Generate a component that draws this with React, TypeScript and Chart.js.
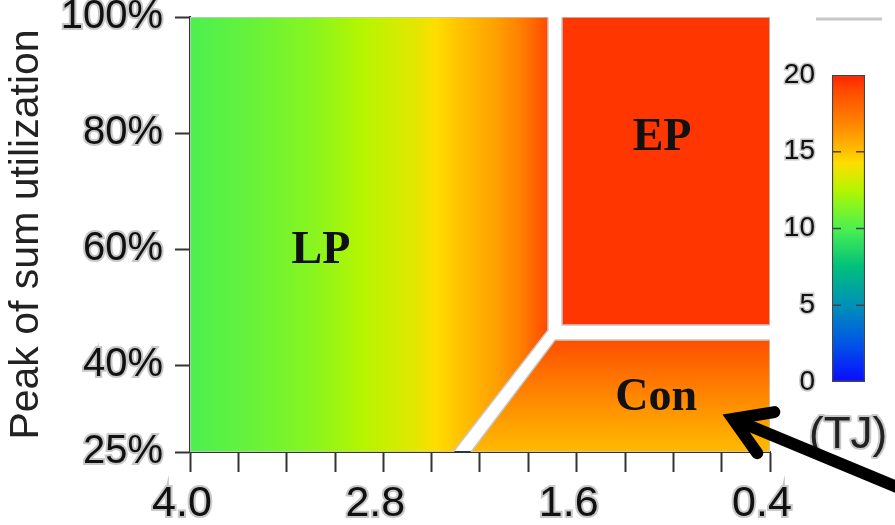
import React, { useEffect, useRef } from 'react';
import { Chart, registerables } from 'chart.js';

Chart.register(...registerables);

// ---------- axis ticks ----------
const xTickValues = [4.0, 3.7, 3.4, 3.1, 2.8, 2.5, 2.2, 1.9, 1.6, 1.3, 1.0, 0.7, 0.4];
const xLabeledTicks = [4.0, 2.8, 1.6, 0.4];
const yTickValues = [25, 40, 60, 80, 100];
const colorbarTicks = [0, 5, 10, 15, 20];
const colorbarUnit = '(TJ)';

// ---------- region polygons (x: ratio, y: peak of sum utilization %) ----------
const lpX = [4.0, 4.0, 1.778, 1.778, 2.367, 4.0];
const lpY = [25, 100, 100, 46.0, 25, 25];
const epX = [1.691, 0.4, 0.4, 1.691, 1.691];
const epY = [100, 100, 46.9, 46.9, 100];
const conX = [2.256, 1.734, 0.4, 0.4, 2.256];
const conY = [25, 44.3, 44.3, 25, 25];

// ---------- energy values (TJ) ----------
const lpEnergyX = [4.0, 3.65, 3.24, 2.93, 2.62, 2.47, 2.31, 2.1, 1.95, 1.778];
const lpEnergy = [10, 10.6, 11.5, 12.5, 13.5, 14.3, 15, 16, 17, 19];
const epEnergy = 19.5;
const conEnergyY = [44.3, 40.5, 30, 25];
const conEnergy = [18.8, 18, 16, 15.2];

// ---------- annotations ----------
const regionNames = ['LP', 'EP', 'Con'];
const regionLabelX = [3.187, 1.07, 1.107];
const regionLabelY = [59.6, 79.1, 34.3];
const arrowX = [-0.47, 0.63];
const arrowY = [18.0, 30.7];

// ---------- colormap (style) ----------
const cmapStops: [number, string][] = [
  [0, '#0a0aff'],
  [2.5, '#0055e6'],
  [5, '#0090b8'],
  [7.5, '#00c07c'],
  [10, '#4cf050'],
  [11.5, '#88f520'],
  [12.5, '#b5f500'],
  [13.5, '#e0e800'],
  [14.3, '#ffdd00'],
  [15, '#ffc000'],
  [16, '#ffa000'],
  [17, '#ff8000'],
  [19, '#ff4a00'],
  [20, '#ff2200'],
];

const SANS = "'Liberation Sans', Arial, sans-serif";
const SERIF = "'Liberation Serif', 'Times New Roman', serif";

function hexToRgb(h: string) {
  const n = parseInt(h.slice(1), 16);
  return [(n >> 16) & 255, (n >> 8) & 255, n & 255];
}
function cmap(v: number): string {
  const s = cmapStops;
  if (v <= s[0][0]) return s[0][1];
  for (let i = 1; i < s.length; i++) {
    if (v <= s[i][0]) {
      const t = (v - s[i - 1][0]) / (s[i][0] - s[i - 1][0]);
      const a = hexToRgb(s[i - 1][1]);
      const b = hexToRgb(s[i][1]);
      const c = a.map((av, k) => Math.round(av + (b[k] - av) * t));
      return `rgb(${c[0]},${c[1]},${c[2]})`;
    }
  }
  return s[s.length - 1][1];
}

function lpFill(chart: any) {
  const { ctx, scales, chartArea } = chart;
  if (!chartArea || !scales.x) return cmap(lpEnergy[0]);
  const x0 = scales.x.getPixelForValue(lpEnergyX[0]);
  const x1 = scales.x.getPixelForValue(lpEnergyX[lpEnergyX.length - 1]);
  const g = ctx.createLinearGradient(x0, 0, x1, 0);
  lpEnergyX.forEach((xv, i) => {
    const f = (scales.x.getPixelForValue(xv) - x0) / (x1 - x0);
    g.addColorStop(Math.min(1, Math.max(0, f)), cmap(lpEnergy[i]));
  });
  return g;
}
function conFill(chart: any) {
  const { ctx, scales, chartArea } = chart;
  if (!chartArea || !scales.y) return cmap(conEnergy[0]);
  const y0 = scales.y.getPixelForValue(conEnergyY[0]);
  const y1 = scales.y.getPixelForValue(conEnergyY[conEnergyY.length - 1]);
  const g = ctx.createLinearGradient(0, y0, 0, y1);
  conEnergyY.forEach((yv, i) => {
    const f = (scales.y.getPixelForValue(yv) - y0) / (y1 - y0);
    g.addColorStop(Math.min(1, Math.max(0, f)), cmap(conEnergy[i]));
  });
  return g;
}

const annotationPlugin = {
  id: 'annotations',
  afterDraw(chart: any) {
    const { ctx, scales, chartArea } = chart;
    const xs = scales.x;
    const ys = scales.y;
    ctx.save();
    // region labels
    ctx.font = `bold 46px ${SERIF}`;
    ctx.textAlign = 'center';
    ctx.textBaseline = 'middle';
    ctx.fillStyle = '#111';
    regionNames.forEach((n, i) => {
      ctx.fillText(n, xs.getPixelForValue(regionLabelX[i]), ys.getPixelForValue(regionLabelY[i]));
    });
    // colorbar unit
    ctx.font = `44px ${SANS}`;
    ctx.textAlign = 'left';
    ctx.lineWidth = 4;
    ctx.strokeStyle = '#c8c8c8';
    ctx.lineJoin = 'round';
    ctx.strokeText(colorbarUnit, chartArea.right + 39, chartArea.bottom - 16);
    ctx.fillStyle = '#222';
    ctx.fillText(colorbarUnit, chartArea.right + 39, chartArea.bottom - 16);
    // arrow
    const tx = xs.getPixelForValue(arrowX[1]);
    const ty = ys.getPixelForValue(arrowY[1]);
    const fx = xs.getPixelForValue(arrowX[0]);
    const fy = ys.getPixelForValue(arrowY[0]);
    const ang = Math.atan2(fy - ty, fx - tx);
    const wing = 42;
    const spread = (32 * Math.PI) / 180;
    ctx.strokeStyle = '#000';
    ctx.lineWidth = 12;
    ctx.lineCap = 'round';
    ctx.lineJoin = 'miter';
    ctx.beginPath();
    ctx.moveTo(fx, fy);
    ctx.lineTo(tx + 8 * Math.cos(ang), ty + 8 * Math.sin(ang));
    ctx.stroke();
    ctx.beginPath();
    ctx.moveTo(tx + wing * Math.cos(ang - spread), ty + wing * Math.sin(ang - spread));
    ctx.lineTo(tx, ty);
    ctx.lineTo(tx + wing * Math.cos(ang + spread), ty + wing * Math.sin(ang + spread));
    ctx.stroke();
    // faint line at top right
    ctx.strokeStyle = '#c8c8c8';
    ctx.lineWidth = 3;
    ctx.lineCap = 'butt';
    ctx.beginPath();
    ctx.moveTo(chartArea.right + 46, chartArea.top + 2);
    ctx.lineTo(chartArea.right + 112, chartArea.top + 2);
    ctx.stroke();
    ctx.restore();
  },
};

const colorbarPlugin = {
  id: 'cbTicks',
  afterDatasetsDraw(chart: any) {
    const { ctx, scales, chartArea } = chart;
    ctx.save();
    ctx.strokeStyle = '#444';
    ctx.lineWidth = 1.5;
    colorbarTicks.forEach((v) => {
      if (v === colorbarTicks[0] || v === colorbarTicks[colorbarTicks.length - 1]) return;
      const py = scales.y.getPixelForValue(v);
      ctx.beginPath();
      ctx.moveTo(chartArea.left, py);
      ctx.lineTo(chartArea.left + 9, py);
      ctx.moveTo(chartArea.right - 9, py);
      ctx.lineTo(chartArea.right, py);
      ctx.stroke();
    });
    ctx.restore();
  },
};

const poly = (xs: number[], ys: number[]) => xs.map((x, i) => ({ x, y: ys[i] }));

export default function App() {
  const mainRef = useRef<HTMLCanvasElement>(null);
  const cbRef = useRef<HTMLCanvasElement>(null);

  useEffect(() => {
    if (!mainRef.current || !cbRef.current) return;
    const common = {
      showLine: true,
      fill: 'shape',
      pointRadius: 0,
      borderColor: '#c8c8c8',
      borderWidth: 1.5,
      tension: 0,
    };
    const main = new Chart(mainRef.current, {
      type: 'scatter',
      data: {
        datasets: [
          { ...common, label: 'LP', data: poly(lpX, lpY), backgroundColor: (c: any) => lpFill(c.chart) },
          { ...common, label: 'EP', data: poly(epX, epY), backgroundColor: cmap(epEnergy) },
          { ...common, label: 'Con', data: poly(conX, conY), backgroundColor: (c: any) => conFill(c.chart) },
        ] as any,
      },
      options: {
        responsive: false,
        animation: false,
        events: [],
        layout: { padding: { top: 17, right: 125, bottom: 0, left: 0 } },
        plugins: { legend: { display: false }, tooltip: { enabled: false } },
        scales: {
          x: {
            type: 'linear',
            min: 0.4,
            max: 4.0,
            reverse: true,
            z: 1,
            afterBuildTicks: (s: any) => {
              s.ticks = xTickValues.map((v) => ({ value: v }));
            },
            afterFit: (s: any) => {
              s.height = 73;
            },
            grid: { drawOnChartArea: false, tickLength: 20, tickWidth: 2, color: '#333' },
            border: { display: true, color: '#333', width: 2 },
            ticks: {
              autoSkip: false,
              maxRotation: 0,
              padding: 11,
              labelOffset: -8,
              color: '#111',
              font: { family: SANS, size: 43, lineHeight: 1 },
              textStrokeColor: '#c8c8c8',
              textStrokeWidth: 4,
              callback: (v: any) =>
                xLabeledTicks.some((t) => Math.abs(t - Number(v)) < 1e-6) ? Number(v).toFixed(1) : '',
            },
          },
          y: {
            type: 'linear',
            min: 25,
            max: 100,
            z: 1,
            afterBuildTicks: (s: any) => {
              s.ticks = yTickValues.map((v) => ({ value: v }));
            },
            afterFit: (s: any) => {
              s.width = 190;
            },
            grid: { drawOnChartArea: false, tickLength: 15, tickWidth: 2, color: '#333' },
            border: { display: true, color: '#333', width: 2 },
            ticks: {
              padding: 12,
              color: '#111',
              font: { family: SANS, size: 40, lineHeight: 0.2 },
              textStrokeColor: '#c8c8c8',
              textStrokeWidth: 4,
              callback: (v: any) => `${v}%`,
            },
            title: {
              display: true,
              text: 'Peak of sum utilization',
              color: '#222',
              font: { family: SANS, size: 41, lineHeight: 1.2 },
              padding: { top: 2, bottom: 0 },
            },
          },
        },
      } as any,
      plugins: [annotationPlugin],
    });

    const cb = new Chart(cbRef.current, {
      type: 'bar',
      data: {
        labels: ['TJ'],
        datasets: [
          {
            data: [[colorbarTicks[0], colorbarTicks[colorbarTicks.length - 1]]],
            barPercentage: 1,
            categoryPercentage: 1,
            borderColor: '#444',
            borderWidth: 1.5,
            borderSkipped: false,
            backgroundColor: (c: any) => {
              const { ctx, scales, chartArea } = c.chart;
              if (!chartArea || !scales.y) return cmap(10);
              const y0 = scales.y.getPixelForValue(cmapStops[0][0]);
              const y1 = scales.y.getPixelForValue(cmapStops[cmapStops.length - 1][0]);
              const g = ctx.createLinearGradient(0, y0, 0, y1);
              cmapStops.forEach(([v, col]) => {
                g.addColorStop((scales.y.getPixelForValue(v) - y0) / (y1 - y0), col);
              });
              return g;
            },
          },
        ] as any,
      },
      options: {
        responsive: false,
        animation: false,
        events: [],
        layout: { padding: { top: 25, right: 30, bottom: 0, left: 0 } },
        plugins: { legend: { display: false }, tooltip: { enabled: false } },
        scales: {
          x: {
            afterFit: (s: any) => {
              s.height = 88;
            },
            grid: { display: false, drawTicks: false },
            border: { display: false },
            ticks: { display: false },
          },
          y: {
            min: 0,
            max: 20,
            afterBuildTicks: (s: any) => {
              s.ticks = colorbarTicks.map((v) => ({ value: v }));
            },
            afterFit: (s: any) => {
              s.width = 62;
            },
            grid: { display: false, drawTicks: false },
            border: { display: false },
            ticks: {
              padding: 17,
              color: '#111',
              font: { family: SANS, size: 28, lineHeight: 0.2 },
              textStrokeColor: '#c8c8c8',
              textStrokeWidth: 3,
            },
          },
        },
      } as any,
      plugins: [colorbarPlugin],
    });

    return () => {
      main.destroy();
      cb.destroy();
    };
  }, []);

  return (
    <div style={{ position: 'fixed', left: 0, top: 0, width: 895, height: 525, background: '#fff', overflow: 'hidden' }}>
      <canvas ref={mainRef} width={895} height={525} style={{ position: 'absolute', left: 0, top: 0, width: 895, height: 525 }} />
      <canvas ref={cbRef} width={125} height={420} style={{ position: 'absolute', left: 770, top: 50, width: 125, height: 420 }} />
    </div>
  );
}
